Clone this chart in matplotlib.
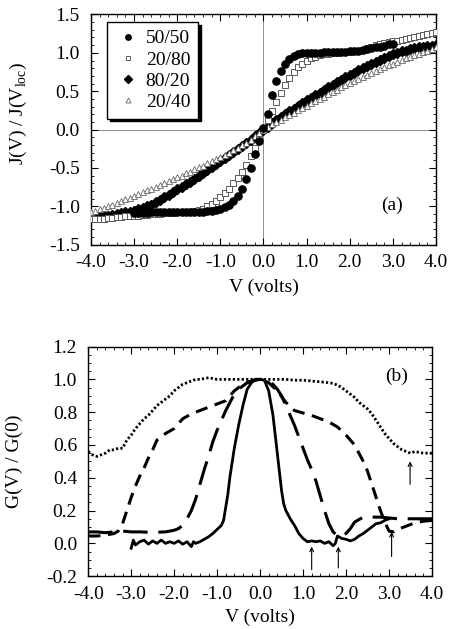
import numpy as np
import matplotlib
matplotlib.use('Agg')
import matplotlib.pyplot as plt
from matplotlib.ticker import MultipleLocator, FormatStrFormatter

plt.rcParams['font.family'] = ['Liberation Serif', 'DejaVu Serif']
plt.rcParams['mathtext.fontset'] = 'custom'
plt.rcParams['mathtext.rm'] = 'Liberation Serif'
plt.rcParams['axes.unicode_minus'] = False

# ---------------- panel (a): J(V)/J(Vloc), sampled every 0.1 V ----------------
v_full = np.round(np.arange(-4.0, 4.01, 0.1), 1)   # -4.0 .. 4.0
v_5050 = np.round(np.arange(-3.0, 3.01, 0.1), 1)   # -3.0 .. 3.0

j_5050 = [-1.09, -1.09, -1.09, -1.09, -1.08, -1.08, -1.08, -1.08, -1.08, -1.08, -1.08,
          -1.08, -1.08, -1.07, -1.07, -1.07, -1.07, -1.06, -1.06, -1.05,
          -1.03, -1.01, -0.98, -0.93, -0.87, -0.78, -0.65, -0.50, -0.32, -0.15,
          0.02,
          0.20, 0.45, 0.63, 0.76, 0.86, 0.92, 0.96, 0.985, 0.995, 1.0,
          1.0, 1.0, 1.0, 1.005, 1.005, 1.01, 1.01, 1.01, 1.015, 1.02,
          1.025, 1.03, 1.04, 1.05, 1.06, 1.07, 1.08, 1.095, 1.11, 1.12]

j_2080 = [-1.17, -1.17, -1.16, -1.16, -1.15, -1.15, -1.14, -1.14, -1.13, -1.13,
          -1.12, -1.12, -1.11, -1.11, -1.10, -1.10, -1.10, -1.09, -1.09, -1.09,
          -1.08, -1.08, -1.07, -1.07, -1.06, -1.05, -1.03, -1.0, -0.97, -0.93,
          -0.88, -0.83, -0.77, -0.70, -0.63, -0.55, -0.46, -0.35, -0.24, -0.12,
          0.0,
          0.12, 0.24, 0.36, 0.48, 0.58, 0.67, 0.75, 0.81, 0.86, 0.90,
          0.93, 0.95, 0.97, 0.98, 0.99, 1.0, 1.0, 1.005, 1.01, 1.01,
          1.02, 1.03, 1.04, 1.06, 1.08, 1.10, 1.12, 1.13, 1.14, 1.15,
          1.16, 1.17, 1.18, 1.19, 1.20, 1.22, 1.23, 1.24, 1.26, 1.27]

j_8020 = [-1.14, -1.14, -1.13, -1.13, -1.12, -1.11, -1.10, -1.09, -1.08, -1.07,
          -1.06, -1.04, -1.02, -1.00, -0.98, -0.95, -0.92, -0.88, -0.85, -0.82,
          -0.78, -0.75, -0.71, -0.68, -0.64, -0.60, -0.57, -0.53, -0.49, -0.45,
          -0.41, -0.37, -0.33, -0.29, -0.25, -0.21, -0.17, -0.13, -0.08, -0.04,
          0.0,
          0.04, 0.08, 0.12, 0.16, 0.20, 0.24, 0.27, 0.31, 0.34, 0.38,
          0.41, 0.45, 0.48, 0.52, 0.55, 0.58, 0.62, 0.65, 0.68, 0.71,
          0.74, 0.77, 0.80, 0.83, 0.86, 0.88, 0.91, 0.93, 0.96, 0.98,
          1.0, 1.02, 1.03, 1.05, 1.06, 1.07, 1.08, 1.09, 1.095, 1.10]

j_2040 = [-1.08, -1.06, -1.04, -1.02, -1.0, -0.98, -0.96, -0.93, -0.91, -0.89,
          -0.86, -0.84, -0.82, -0.79, -0.77, -0.75, -0.72, -0.70, -0.67, -0.65,
          -0.62, -0.60, -0.57, -0.55, -0.52, -0.49, -0.47, -0.44, -0.41, -0.38,
          -0.36, -0.33, -0.30, -0.27, -0.24, -0.20, -0.17, -0.13, -0.09, -0.05,
          0.0,
          0.04, 0.07, 0.10, 0.13, 0.16, 0.19, 0.22, 0.25, 0.28, 0.31,
          0.34, 0.37, 0.40, 0.43, 0.46, 0.49, 0.52, 0.55, 0.58, 0.61,
          0.63, 0.66, 0.69, 0.71, 0.74, 0.76, 0.79, 0.81, 0.84, 0.86,
          0.88, 0.91, 0.93, 0.95, 0.97, 0.99, 1.01, 1.03, 1.05, 1.08]

# ---------------- panel (b): G(V)/G(0) ----------------
v_solid = [-3.0, -2.95, -2.9, -2.8, -2.7, -2.6, -2.5, -2.4, -2.3, -2.2, -2.1, -2.0,
           -1.9, -1.8, -1.7, -1.6, -1.55, -1.5, -1.4, -1.3, -1.2, -1.1, -1.0, -0.9,
           -0.85, -0.8, -0.75, -0.7, -0.6, -0.5, -0.4, -0.3, -0.2, -0.1, 0.0, 0.1,
           0.2, 0.3, 0.4, 0.5, 0.55, 0.6, 0.7, 0.8, 0.9, 1.0, 1.1, 1.2, 1.3, 1.4,
           1.5, 1.6, 1.7, 1.75, 1.8, 1.9, 2.0, 2.1, 2.2, 2.3, 2.4, 2.5, 2.6, 2.7,
           2.8, 2.9, 3.0]
g_solid = [-0.03, 0.02, -0.01, 0.01, 0.02, -0.005, 0.015, 0.0, 0.02, 0.0, 0.01, 0.0,
           0.015, -0.005, 0.01, -0.02, 0.01, 0.0, 0.01, 0.025, 0.04, 0.06, 0.085, 0.11,
           0.14, 0.22, 0.30, 0.41, 0.58, 0.72, 0.84, 0.94, 0.98, 1.0, 1.0, 0.995,
           0.93, 0.78, 0.55, 0.32, 0.24, 0.20, 0.15, 0.11, 0.06, 0.03, 0.01, 0.015, 0.01, 0.015,
           0.0, 0.01, -0.015, 0.0, 0.045, 0.03, 0.025, 0.015, 0.025, 0.045, 0.06, 0.08, 0.10, 0.12,
           0.125, 0.14, 0.15]

v_long = [-4.0, -3.8, -3.6, -3.4, -3.2, -3.0, -2.8, -2.6, -2.4, -2.2,
          -2.0, -1.9, -1.8, -1.7, -1.6, -1.5, -1.4, -1.3, -1.2, -1.1,
          -1.0, -0.9, -0.8, -0.7, -0.6, -0.5, -0.4, -0.3, -0.2, -0.1,
          0.0, 0.1, 0.2, 0.3, 0.4, 0.5, 0.6, 0.7, 0.8, 0.9,
          1.0, 1.1, 1.2, 1.3, 1.4, 1.5, 1.6, 1.7, 1.8, 1.9,
          2.0, 2.1, 2.2, 2.4, 2.6, 2.8, 3.0, 3.2, 3.4, 3.6, 3.8, 4.0]
g_long = [0.07, 0.07, 0.065, 0.07, 0.075, 0.07, 0.07, 0.068, 0.068, 0.07,
          0.08, 0.09, 0.11, 0.15, 0.20, 0.27, 0.36, 0.45, 0.53, 0.62,
          0.69, 0.75, 0.81, 0.86, 0.91, 0.94, 0.96, 0.98, 0.99, 1.0,
          1.0, 1.0, 0.99, 0.97, 0.94, 0.90, 0.84, 0.78, 0.72, 0.65,
          0.58, 0.51, 0.45, 0.38, 0.29, 0.20, 0.12, 0.07, 0.045, 0.045,
          0.06, 0.09, 0.13, 0.16, 0.16, 0.16, 0.155, 0.15, 0.15, 0.15, 0.15, 0.15]

v_short = [-4.0, -3.8, -3.6, -3.4, -3.3, -3.2, -3.1, -3.0, -2.9, -2.8,
           -2.7, -2.6, -2.5, -2.4, -2.2, -2.0, -1.8, -1.6, -1.4, -1.2,
           -1.0, -0.8, -0.6, -0.4, -0.2, 0.0, 0.2, 0.4, 0.6, 0.8,
           1.0, 1.2, 1.4, 1.6, 1.8, 2.0, 2.2, 2.4, 2.5, 2.6,
           2.7, 2.8, 2.9, 3.0, 3.1, 3.2, 3.4, 3.6, 3.8, 4.0]
g_short = [0.045, 0.045, 0.05, 0.06, 0.075, 0.12, 0.20, 0.28, 0.35, 0.41,
           0.46, 0.52, 0.57, 0.63, 0.67, 0.70, 0.76, 0.79, 0.81, 0.83,
           0.85, 0.87, 0.93, 0.97, 0.99, 1.0, 0.98, 0.93, 0.86, 0.81,
           0.795, 0.78, 0.76, 0.74, 0.71, 0.66, 0.60, 0.50, 0.44, 0.36,
           0.28, 0.20, 0.13, 0.075, 0.07, 0.085, 0.105, 0.125, 0.135, 0.14]

v_dot = [-4.0, -3.9, -3.8, -3.7, -3.6, -3.5, -3.4, -3.3, -3.2, -3.1,
         -3.0, -2.9, -2.8, -2.7, -2.6, -2.5, -2.4, -2.3, -2.2, -2.1,
         -2.0, -1.9, -1.8, -1.7, -1.6, -1.5, -1.4,
         -1.2, -1.0, -0.8, -0.6, -0.4, -0.2, 0.0, 0.2, 0.4, 0.6, 0.8, 1.0, 1.2, 1.4, 1.6,
         1.7, 1.8, 1.9, 2.0, 2.1, 2.2, 2.3, 2.4, 2.5, 2.6,
         2.7, 2.8, 2.9, 3.0, 3.1, 3.2, 3.3, 3.4, 3.5, 3.6,
         3.7, 3.8, 3.9, 4.0]
g_dot = [0.56, 0.54, 0.53, 0.54, 0.55, 0.57, 0.57, 0.58, 0.58, 0.63,
         0.66, 0.70, 0.73, 0.76, 0.78, 0.81, 0.84, 0.86, 0.88, 0.90,
         0.93, 0.95, 0.97, 0.98, 0.99, 1.0, 1.0,
         1.01, 1.0, 1.0, 1.0, 1.0, 1.0, 1.0, 1.0, 1.0, 1.0, 0.995, 0.995, 0.99, 0.985, 0.98,
         0.975, 0.965, 0.95, 0.93, 0.91, 0.89, 0.86, 0.84, 0.82, 0.79,
         0.75, 0.71, 0.67, 0.64, 0.61, 0.59, 0.57, 0.56, 0.55, 0.56,
         0.555, 0.55, 0.55, 0.55]

# arrows marking the gap edges
arrow_v = [1.2, 1.82, 3.06, 3.49]
arrow_g0 = [-0.16, -0.15, -0.08, 0.36]
arrow_g1 = [-0.02, -0.02, 0.07, 0.50]

fig = plt.figure(figsize=(4.5, 6.29), dpi=100)
ax1 = fig.add_axes([0.202, 0.611, 0.767, 0.366])
ax2 = fig.add_axes([0.196, 0.084, 0.764, 0.365])

# panel (a)
ax1.axhline(0, color='0.4', lw=0.5, zorder=1)
ax1.axvline(0, color='0.4', lw=0.5, zorder=1)
ax1.plot(v_5050, j_5050, 'o', ms=5.2, color='black', mec='black', label='50/50', zorder=6)
ax1.plot(v_full, j_2080, 's', ms=4.6, mfc='white', mec='0.35', mew=0.7, label='20/80', zorder=5)
ax1.plot(v_full, j_8020, 'D', ms=5.0, color='black', label='80/20', zorder=3)
ax1.plot(v_full, j_2040, '^', ms=4.8, mfc='white', mec='0.4', mew=0.6, label='20/40', zorder=4)

ax1.set_xlim(-4, 4)
ax1.set_ylim(-1.5, 1.5)
ax1.yaxis.set_major_locator(MultipleLocator(0.5))
ax1.yaxis.set_minor_locator(MultipleLocator(0.1))
ax1.set_xlabel('V (volts)', fontsize=14, labelpad=5)
ax1.set_ylabel(r'J(V) / J(V$_{\mathrm{loc}}$)', fontsize=14)
ax1.yaxis.set_label_coords(-0.18, 0.57)
ax1.text(2.97, -0.99, '(a)', fontsize=14, ha='center', va='center')

leg = ax1.legend(loc='upper left', bbox_to_anchor=(0.046, 0.967), borderaxespad=0,
                 fontsize=14, frameon=True, fancybox=False, edgecolor='black',
                 markerscale=0.75, handlelength=1.4, handletextpad=0.2,
                 labelspacing=0.18, borderpad=0.4,
                 shadow={'color': 'black', 'alpha': 1.0})
leg.get_frame().set_linewidth(1.0)

# panel (b)
ax2.plot(v_dot, g_dot, color='black', lw=2.0, linestyle=(0, (0.8, 0.8)))
ax2.plot(v_short, g_short, color='black', lw=2.2, linestyle=(0, (4, 2.5)))
ax2.plot(v_long, g_long, color='black', lw=2.2, linestyle=(0, (8, 3.5)))
ax2.plot(v_solid, g_solid, color='black', lw=2.0)
for xv, y0, y1 in zip(arrow_v, arrow_g0, arrow_g1):
    ax2.annotate('', xy=(xv, y1), xytext=(xv, y0),
                 arrowprops=dict(arrowstyle='->', lw=0.8, color='black',
                                 mutation_scale=7, shrinkA=0, shrinkB=0))
ax2.set_xlim(-4, 4)
ax2.set_ylim(-0.2, 1.2)
ax2.yaxis.set_major_locator(MultipleLocator(0.2))
ax2.yaxis.set_minor_locator(MultipleLocator(0.05))
ax2.set_xlabel('V (volts)', fontsize=14, labelpad=4)
ax2.set_ylabel('G(V) / G(0)', fontsize=14)
ax2.yaxis.set_label_coords(-0.19, 0.5)
ax2.text(3.17, 1.02, '(b)', fontsize=14, ha='center', va='center')

for ax in (ax1, ax2):
    ax.xaxis.set_major_locator(MultipleLocator(1.0))
    ax.xaxis.set_minor_locator(MultipleLocator(0.2))
    ax.xaxis.set_major_formatter(FormatStrFormatter('%.1f'))
    ax.yaxis.set_major_formatter(FormatStrFormatter('%.1f'))
    ax.tick_params(which='both', direction='in', top=True, right=True, labelsize=14)
    ax.tick_params(which='major', length=5, width=0.8)
    ax.tick_params(which='minor', length=2.5, width=0.6)
    ax.tick_params(axis='x', which='major', pad=7)
    ax.tick_params(axis='y', which='major', pad=8)
    for s in ax.spines.values():
        s.set_linewidth(1.0)

fig.savefig('out.png', dpi=100)
